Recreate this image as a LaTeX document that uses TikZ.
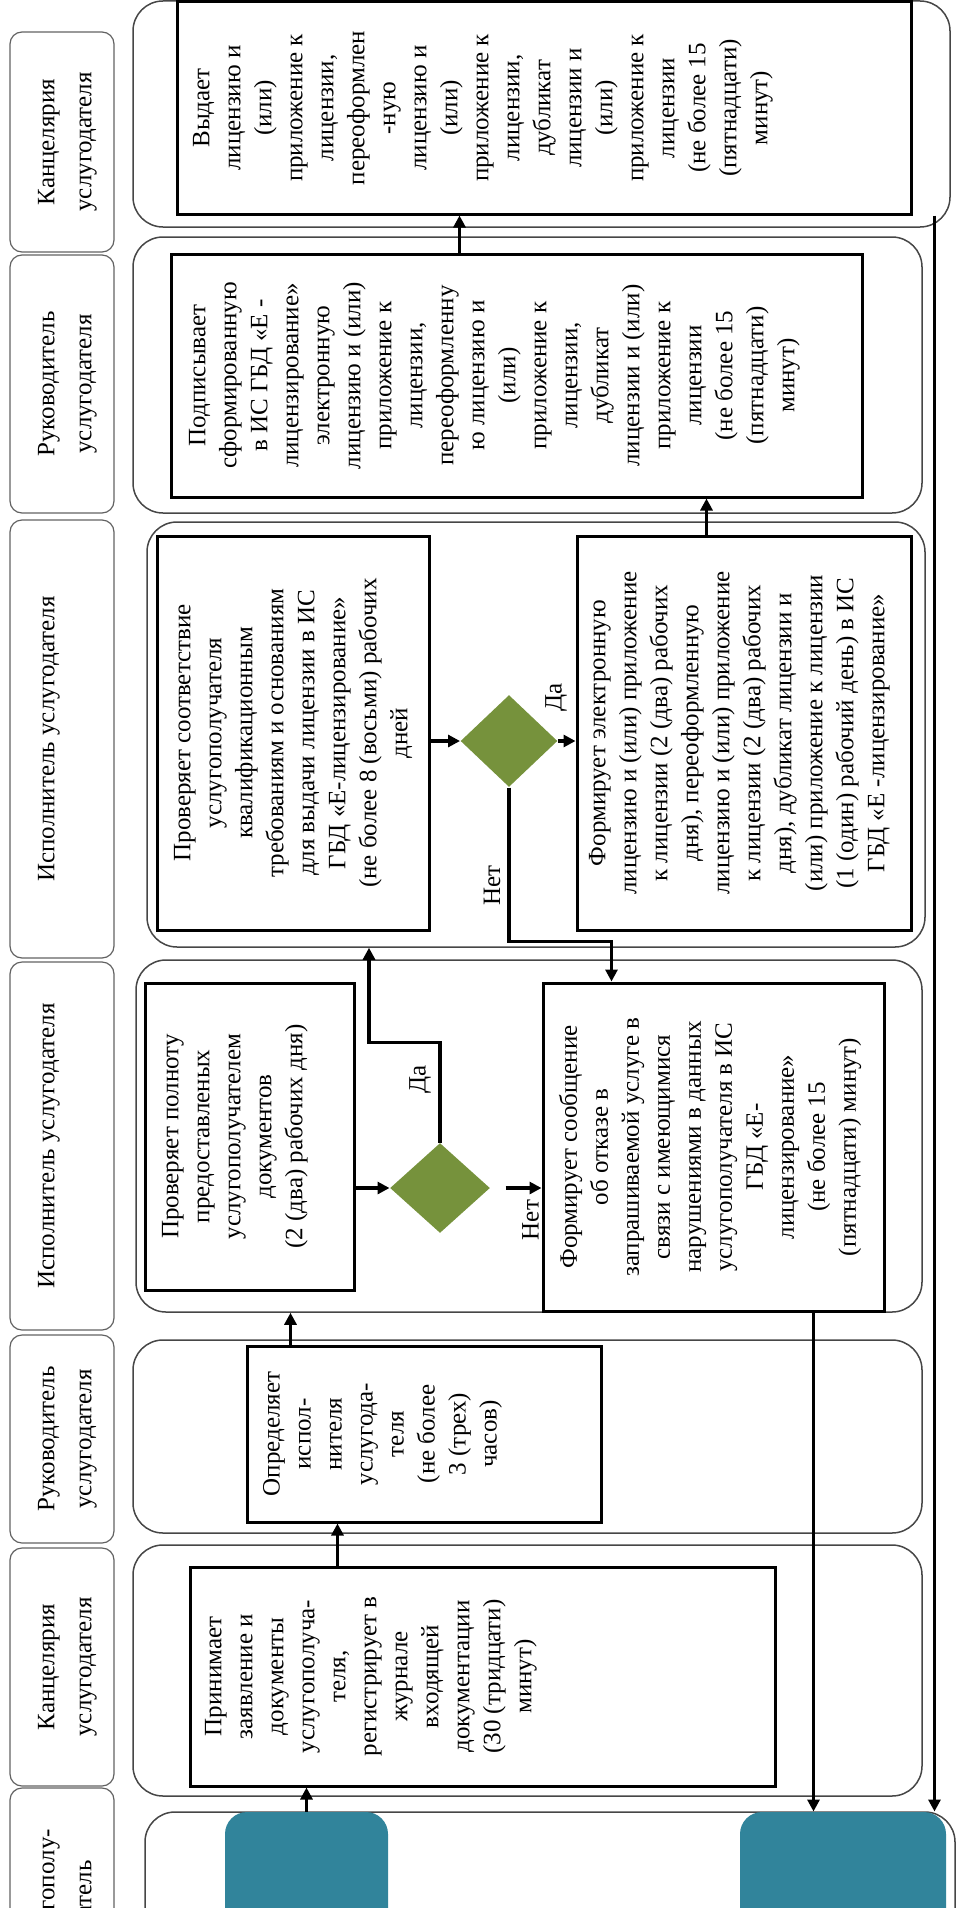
\documentclass[tikz,border=0pt]{standalone}
\usepackage{fontspec}
\setmainfont{Liberation Serif}
\usetikzlibrary{positioning,calc,shapes.geometric,arrows.meta}

\definecolor{olivegr}{RGB}{118,146,60}
\definecolor{tealbl}{RGB}{49,132,155}
\definecolor{laneline}{RGB}{70,70,70}

\tikzset{every picture/.style={line width=1pt},
  lane/.style={draw=laneline, line width=1.5pt, rounded corners=30pt, inner sep=0pt},
  lanehead/.style={draw=laneline!85, line width=1.2pt, rounded corners=12pt, inner sep=0pt, minimum width=104},
  headtext/.style={rotate=90, anchor=north, inner sep=0pt, align=center, font=\fontsize{25}{37}\selectfont},
  procbox/.style={draw=black, line width=3pt, fill=white, inner sep=0pt},
  proctext/.style={rotate=90, anchor=north, inner sep=0pt, align=center, font=\fontsize{25}{31}\selectfont},
  decision/.style={diamond, fill=olivegr, inner sep=0pt},
  endpoint/.style={fill=tealbl, rounded corners=22pt, inner sep=0pt},
  flow/.style={line width=3.5pt, -{Triangle[length=12pt,width=12pt]}},
  answer/.style={rotate=90, inner sep=0pt, font=\fontsize{25}{31}\selectfont}
}

\begin{document}
\begin{tikzpicture}[x=1pt,y=1pt,yscale=-1,xscale=1]
\useasboundingbox (0,0) rectangle (957,1908);

%Shape: Lanes
\node[lane, minimum width=817, minimum height=226] (lane1) at (541.5,114) {};
\node[lane, minimum width=789, minimum height=276] (lane2) at (527.5,375) {};
\node[lane, minimum width=778, minimum height=425] (lane3) at (536,734.5) {};
\node[lane, minimum width=786, minimum height=352] (lane4) at (529,1136) {};
\node[lane, minimum width=789, minimum height=193] (lane5) at (527.5,1436.5) {};
\node[lane, minimum width=789, minimum height=251] (lane6) at (527.5,1670.5) {};
\node[lane, minimum width=810, minimum height=200] (lane7) at (550,1912) {};

%Shape: Lane headers
\node[lanehead, minimum height=220] (head1) at (62,142) {};
\node[lanehead, minimum height=258] (head2) at (62,384) {};
\node[lanehead, minimum height=438] (head3) at (62,739) {};
\node[lanehead, minimum height=368] (head4) at (62,1146) {};
\node[lanehead, minimum height=208] (head5) at (62,1439) {};
\node[lanehead, minimum height=238] (head6) at (62,1667) {};
\node[lanehead, minimum height=214] (head7) at (62,1895) {};

% Text Node
\node[headtext] (head1-t) at ([xshift=28pt]head1.west) {Канцелярия\\услугодателя};
\node[headtext] (head2-t) at ([xshift=28pt]head2.west) {Руководитель\\услугодателя};
\node[headtext] (head3-t) at ([xshift=28pt]head3.west) {Исполнитель услугодателя};
\node[headtext] (head4-t) at ([xshift=28pt]head4.west) {Исполнитель услугодателя};
\node[headtext] (head5-t) at ([xshift=28pt]head5.west) {Руководитель\\услугодателя};
\node[headtext] (head6-t) at ([xshift=28pt]head6.west) {Канцелярия\\услугодателя};
\node[headtext] (head7-t) at ([xshift=28pt]head7.west) {Услугополу-\\чатель};

%Shape: Process boxes
\node[procbox, minimum width=734, minimum height=212] (issue) at (544,108) {};
\node[procbox, minimum width=691, minimum height=243] (sign) at (516.5,375.5) {};
\node[procbox, minimum width=272, minimum height=394] (conform) at (293,733) {};
\node[procbox, minimum width=334, minimum height=394] (form) at (744,733) {};
\node[procbox, minimum width=209, minimum height=307] (complete) at (249.5,1136.5) {};
\node[procbox, minimum width=341, minimum height=328] (refuse) at (713.5,1147) {};
\node[procbox, minimum width=354, minimum height=176] (assign) at (424,1434) {};
\node[procbox, minimum width=585, minimum height=219] (accept) at (482.5,1676.5) {};

% Text Node
\node[proctext] (issue-t) at ([xshift=17pt]issue.west) {Выдает\\лицензию и\\(или)\\приложение к\\лицензии,\\переоформлен\\-ную\\лицензию и\\(или)\\приложение к\\лицензии,\\дубликат\\лицензии и\\(или)\\приложение к\\лицензии\\(не более 15\\(пятнадцати)\\минут)};
\node[proctext] (sign-t) at ([xshift=19pt]sign.west) {Подписывает\\сформированную\\в ИС ГБД «Е -\\лицензирование»\\электронную\\лицензию и (или)\\приложение к\\лицензии,\\переоформленну\\ю лицензию и\\(или)\\приложение к\\лицензии,\\дубликат\\лицензии и (или)\\приложение к\\лицензии\\(не более 15\\(пятнадцати)\\минут)};
\node[proctext] (conform-t) at ([xshift=18pt]conform.west) {Проверяет соответствие\\услугополучателя\\квалификационным\\требованиям и основаниям\\для выдачи лицензии в ИС\\ГБД «Е-лицензирование»\\(не более 8 (восьми) рабочих\\дней};
\node[proctext] (form-t) at ([xshift=13pt]form.west) {Формирует электронную\\лицензию и (или) приложение\\к лицензии (2 (два) рабочих\\дня), переоформленную\\лицензию и (или) приложение\\к лицензии (2 (два) рабочих\\дня), дубликат лицензии и\\(или) приложение к лицензии\\(1 (один) рабочий день) в ИС\\ГБД «Е -лицензирование»};
\node[proctext] (complete-t) at ([xshift=18pt]complete.west) {Проверяет полноту\\предоставленых\\услугополучателем\\документов\\(2 (два) рабочих дня)};
\node[proctext] (refuse-t) at ([xshift=17pt]refuse.west) {Формирует сообщение\\об отказе в\\запрашиваемой услуге в\\связи с имеющимися\\нарушениями в данных\\услугополучателя в ИС\\ГБД «Е-\\лицензирование»\\(не более 15\\(пятнадцати) минут)};
\node[proctext] (assign-t) at ([xshift=17pt]assign.west) {Определяет\\испол-\\нителя\\услугода-\\теля\\(не более\\3 (трех)\\часов)};
\node[proctext] (accept-t) at ([xshift=16pt]accept.west) {Принимает\\заявление и\\документы\\услугополуча-\\теля,\\регистрирует в\\журнале\\входящей\\документации\\(30 (тридцати)\\минут)};

%Shape: Diamonds
\node[decision, minimum width=97, minimum height=92] (qconform) at (509,741) {};
\node[decision, minimum width=100, minimum height=90] (qcomplete) at (440,1188) {};

%Shape: Start and end
\node[endpoint, minimum width=163, minimum height=200] (start) at (306.5,1912) {};
\node[endpoint, minimum width=206, minimum height=200] (finish) at (843,1912) {};

%Straight Lines
\coordinate (fromaccept) at ($(accept.north west)+(149,0)$);
\coordinate (fromassign) at ($(assign.north west)+(45,0)$);
\coordinate (bendyes) at ($(qcomplete.north)+(-71,-100)$);
\coordinate (bendno) at ($(refuse.north west)+(70,-40)$);
\coordinate (fromform) at ($(form.north west)+(131,0)$);
\coordinate (fromsign) at ($(sign.north west)+(290,0)$);
\coordinate (fromissue) at ($(issue.south east)+(22,0)$);
\coordinate (fromrefuse) at ($(refuse.south west)+(272,0)$);

\draw[flow] (start.north) -- (start.north |- accept.south);
\draw[flow] (fromaccept) -- (fromaccept |- assign.south);
\draw[flow] (fromassign) -- (fromassign |- lane4.south);
\draw[flow] (complete.east |- qcomplete.west) -- (qcomplete.west);
\draw[flow] ($(qcomplete.east)+(15,0)$) -- (qcomplete.east -| refuse.west);
\draw[flow] (qcomplete.north) |- (bendyes) -- (bendyes |- lane3.south);
\draw[flow] (conform.east |- qconform.west) -- (qconform.west);
\draw[flow] (qconform.east) -- (qconform.east -| form.west);
\draw[flow] (qconform.south) |- (bendno) -- (bendno |- refuse.north);
\draw[flow] (fromform) -- (fromform |- sign.south);
\draw[flow] (fromsign) -- (fromsign |- issue.south);
\draw[flow] (fromissue) -- (fromissue |- finish.north);
\draw[flow] (fromrefuse) -- (fromrefuse |- finish.north);

% Text Node
\node[answer] (yes1) at ($(qconform.east)+(-2,-44)$) {Да};
\node[answer] (no1) at ($(qconform.south)+(-17,98)$) {Нет};
\node[answer] (yes2) at ($(qcomplete.north)+(-20,-63)$) {Да};
\node[answer] (no2) at ($(qcomplete.east)+(40,32)$) {Нет};

\end{tikzpicture}
\end{document}
